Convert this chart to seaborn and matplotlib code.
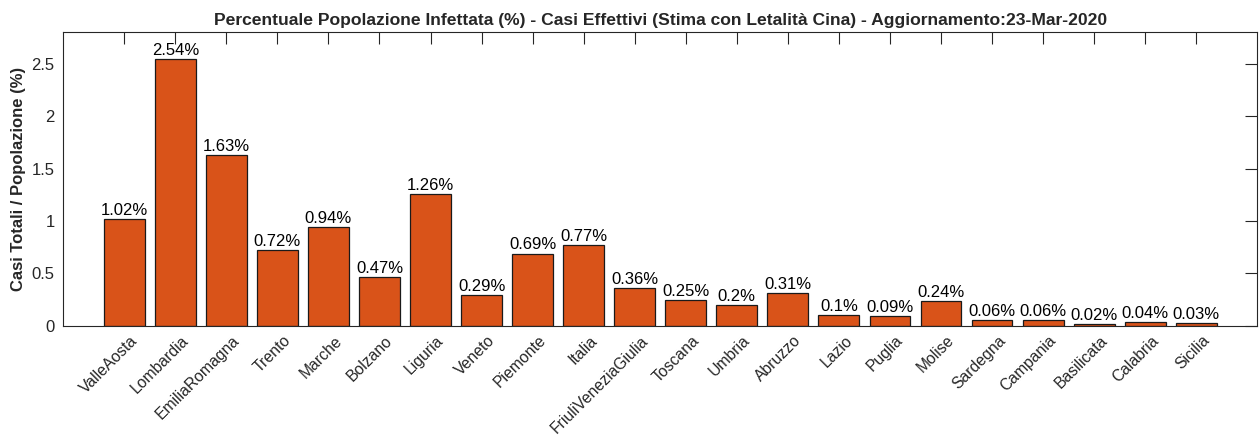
import numpy as np
import pandas as pd
import matplotlib
matplotlib.use('Agg')
import matplotlib.pyplot as plt
import matplotlib.transforms as mtransforms
import seaborn as sns

# ===== data =====
regioni = ['ValleAosta', 'Lombardia', 'EmiliaRomagna', 'Trento', 'Marche', 'Bolzano',
           'Liguria', 'Veneto', 'Piemonte', 'Italia', 'FriuliVeneziaGiulia', 'Toscana',
           'Umbria', 'Abruzzo', 'Lazio', 'Puglia', 'Molise', 'Sardegna', 'Campania',
           'Basilicata', 'Calabria', 'Sicilia']
percentuale = [1.02, 2.54, 1.63, 0.72, 0.94, 0.47, 1.26, 0.29, 0.69, 0.77, 0.36, 0.25,
               0.20, 0.31, 0.10, 0.09, 0.24, 0.06, 0.06, 0.02, 0.04, 0.03]
y_ticks = [0, 0.5, 1, 1.5, 2, 2.5]
y_tick_labels = ['0', '0.5', '1', '1.5', '2', '2.5']

df = pd.DataFrame({'regione': regioni, 'perc': percentuale})

sns.set_style('white')
plt.rcParams['font.family'] = ['Liberation Sans', 'DejaVu Sans']

fig = plt.figure(figsize=(12.6, 4.41), dpi=100)
ax = fig.add_axes([0.05, 0.261, 0.948, 0.666])

sns.barplot(data=df, x='regione', y='perc', color='#D95319', saturation=1,
            edgecolor='#1a1a1a', linewidth=0.9, width=0.8, ax=ax)

# value labels on top of bars
for i, v in enumerate(percentuale):
    ax.text(i, v + 0.01, f'{v:g}%', ha='center', va='bottom', fontsize=12, color='#000000')

ax.set_xlim(-1.2, 22.2)
ax.set_ylim(0, 2.8)
ax.set_yticks(y_ticks)
ax.set_yticklabels(y_tick_labels)
ax.set_axisbelow(False)
ax.tick_params(direction='in', length=8.5, width=0.8, color='#262626',
               top=True, right=True, labelcolor='#262626')
ax.tick_params(axis='y', pad=6, labelsize=12)
ax.tick_params(axis='x', pad=5, labelsize=11.3)
shift = mtransforms.ScaledTranslation(4 / 72, 0, fig.dpi_scale_trans)
for lab in ax.get_xticklabels():
    lab.set_rotation(45)
    lab.set_ha('right')
    lab.set_rotation_mode('anchor')
    lab.set_transform(lab.get_transform() + shift)
for s in ax.spines.values():
    s.set_color('#262626')
    s.set_linewidth(0.8)
    s.set_visible(True)

ax.set_xlabel('')
ax.set_ylabel('Casi Totali / Popolazione (%)', fontsize=12, fontweight='bold', color='#262626')
ax.set_title('Percentuale Popolazione Infettata (%) - Casi Effettivi (Stima con Letalità Cina) - Aggiornamento:23-Mar-2020',
             fontsize=12.6, fontweight='bold', pad=5)

fig.savefig('out.png', dpi=100)
